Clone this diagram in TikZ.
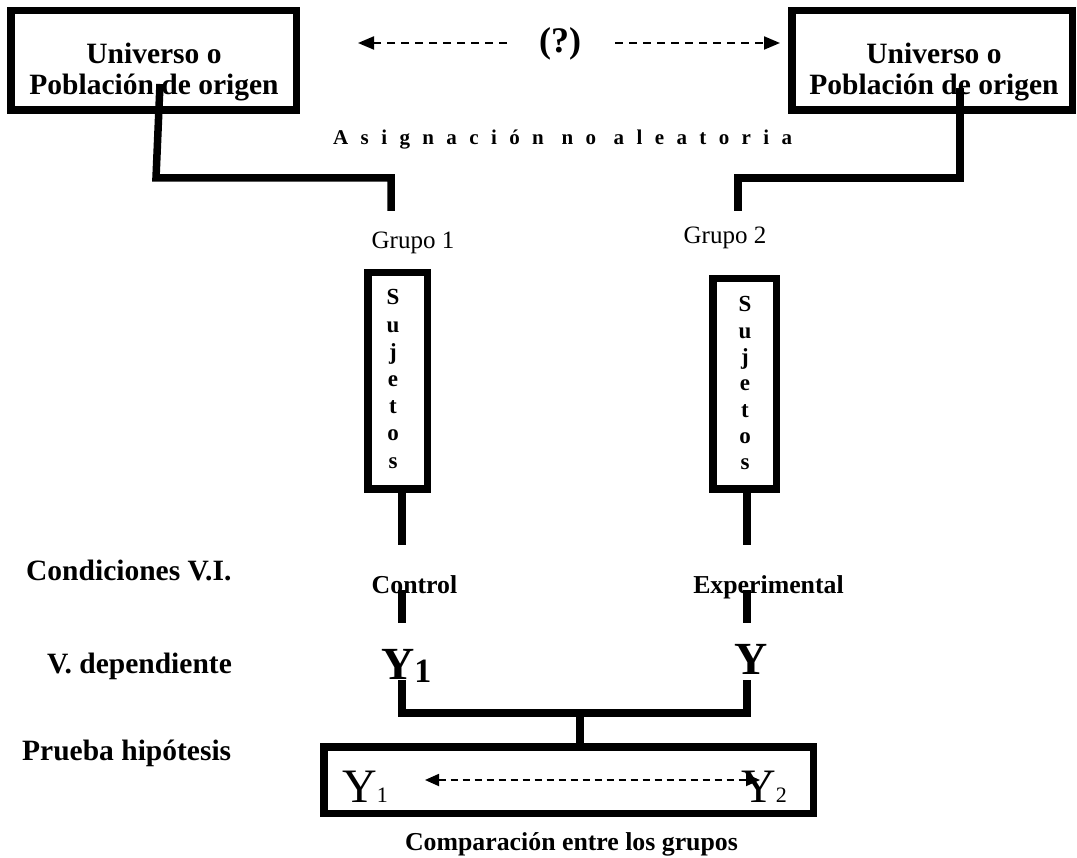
\documentclass[tikz,border=0pt]{standalone}
\usepackage{fontspec}
\setmainfont{Liberation Serif}
\usetikzlibrary{arrows.meta,calc}
\newcommand{\vstk}[1]{\begin{tabular}[t]{@{}c@{}}#1\end{tabular}}
\begin{document}
\begin{tikzpicture}[x=1pt,y=-1pt,
  heavy/.style={line width=7.5pt},
  frame/.style={draw,line width=7.5pt,rectangle,inner sep=0pt},
  dasharrow/.style={line width=2pt,dash pattern=on 8pt off 6pt},
  bigtip/.style={-{Triangle[length=16pt,width=13pt]}},
  big/.style={font=\fontsize{29.5}{31}\selectfont\bfseries},
  mid/.style={font=\fontsize{25.8}{28}\selectfont\bfseries},
  txt/.style={inner sep=0pt,anchor=base}]
\useasboundingbox (0,0) rectangle (1077,858);

% top boxes
\node[frame,minimum width=285.5,minimum height=99.5] (pop1) at (153.5,60.5) {};
\node[txt,big] (pop1t) at (154,64) {\vstk{Universo o\\Población de origen}};
\node[frame,minimum width=280.5,minimum height=99.5] (pop2) at (932,60.5) {};
\node[txt,big] (pop2t) at (934,64) {\vstk{Universo o\\Población de origen}};

% (?) and arrows
\node[txt,font=\fontsize{36}{40}\selectfont\bfseries] (q) at (560,53) {(?)};
\coordinate (qL1) at (507,43); \coordinate (qL2) at (358,43);
\coordinate (qR1) at (615,43); \coordinate (qR2) at (780,43);
\draw[dasharrow,bigtip] (qL1) -- (qL2);
\draw[dasharrow,bigtip] (qR1) -- (qR2);

\node[txt,anchor=base west,font=\fontsize{21}{24}\selectfont\bfseries] (asig) at (333,145) {\addfontfeature{LetterSpace=59}Asignación no aleatoria};

% connectors from populations
\coordinate (c1a) at (160,84); \coordinate (c1b) at (156,178); \coordinate (c1c) at (391,211);
\draw[heavy] (c1a) -- (c1b) -| (c1c);
\coordinate (c2a) at (960,88); \coordinate (c2c) at (738,211);
\draw[heavy] (c2a) |- ($(c2c)+(0,-33)$) -- (c2c);

\node[txt,font=\fontsize{25}{28}\selectfont] (g1) at (413,249) {Grupo 1};
\node[txt,font=\fontsize{25}{28}\selectfont] (g2) at (725,244) {Grupo 2};

% Sujetos boxes
\node[frame,minimum width=59.5,minimum height=216.5] (suj1) at (397.5,381) {};
\node[txt,font=\fontsize{23}{27.2}\selectfont\bfseries] (suj1t) at (393,305) {\vstk{S\\u\\j\\e\\t\\o\\s}};
\node[frame,minimum width=63.5,minimum height=210.5] (suj2) at (744.5,384) {};
\node[txt,font=\fontsize{23}{26.3}\selectfont\bfseries] (suj2t) at (745,312) {\vstk{S\hspace{18pt}\\u\\j\\e\\t\\o\\s}};

\coordinate (s1a) at (402,489); \coordinate (s1b) at (402,545);
\coordinate (s2a) at (747,489); \coordinate (s2b) at (747,545);
\draw[heavy] (s1a) -- (s1b);
\draw[heavy] (s2a) -- (s2b);

% left labels
\node[txt,anchor=base west,big] (cond) at (26,580) {Condiciones V.I.};
\node[txt,anchor=base west,big] (vdep) at (47,673) {V. dependiente};
\node[txt,anchor=base west,big] (prue) at (22,760) {Prueba hipótesis};

% conditions
\node[txt,mid] (ctl) at (414.5,593) {Control};
\node[txt,mid] (exp) at (768.5,593) {Experimental};
\coordinate (k1a) at (402,590); \coordinate (k1b) at (402,623);
\coordinate (k2a) at (747,590); \coordinate (k2b) at (747,623);
\draw[heavy] (k1a) -- (k1b);
\draw[heavy] (k2a) -- (k2b);

% dependent variables
\node[txt,anchor=base west,font=\fontsize{46}{50}\selectfont\bfseries] (y1) at (381,679) {Y\raisebox{-3pt}{\fontsize{34}{38}\selectfont 1}};
\node[txt,font=\fontsize{46}{50}\selectfont\bfseries] (y2) at (751,674) {Y};
\coordinate (j1) at (402,680); \coordinate (j2) at (747,680);
\coordinate (jm) at (580,713);
\draw[heavy] (j1) |- (jm) -| (j2);
\coordinate (jb) at (580,746);
\draw[heavy] (jm) -- (jb);

% hypothesis test box
\node[frame,minimum width=489.5,minimum height=66.5] (pb) at (568.5,780) {};
\node[txt,anchor=base west,font=\fontsize{48}{52}\selectfont] (b1) at (342,802) {Y{\fontsize{22}{24}\selectfont 1}};
\node[txt,anchor=base west,font=\fontsize{48}{52}\selectfont] (b2) at (741,802) {Y{\fontsize{22}{24}\selectfont 2}};
\coordinate (da) at (425,780); \coordinate (db) at (760,780);
\draw[line width=1.8pt,dash pattern=on 7pt off 5pt,{Triangle[length=14pt,width=12pt]}-{Triangle[length=14pt,width=12pt]}] (da) -- (db);

\node[txt,mid] (comp) at (571.5,850) {Comparación entre los grupos};
\end{tikzpicture}
\end{document}
